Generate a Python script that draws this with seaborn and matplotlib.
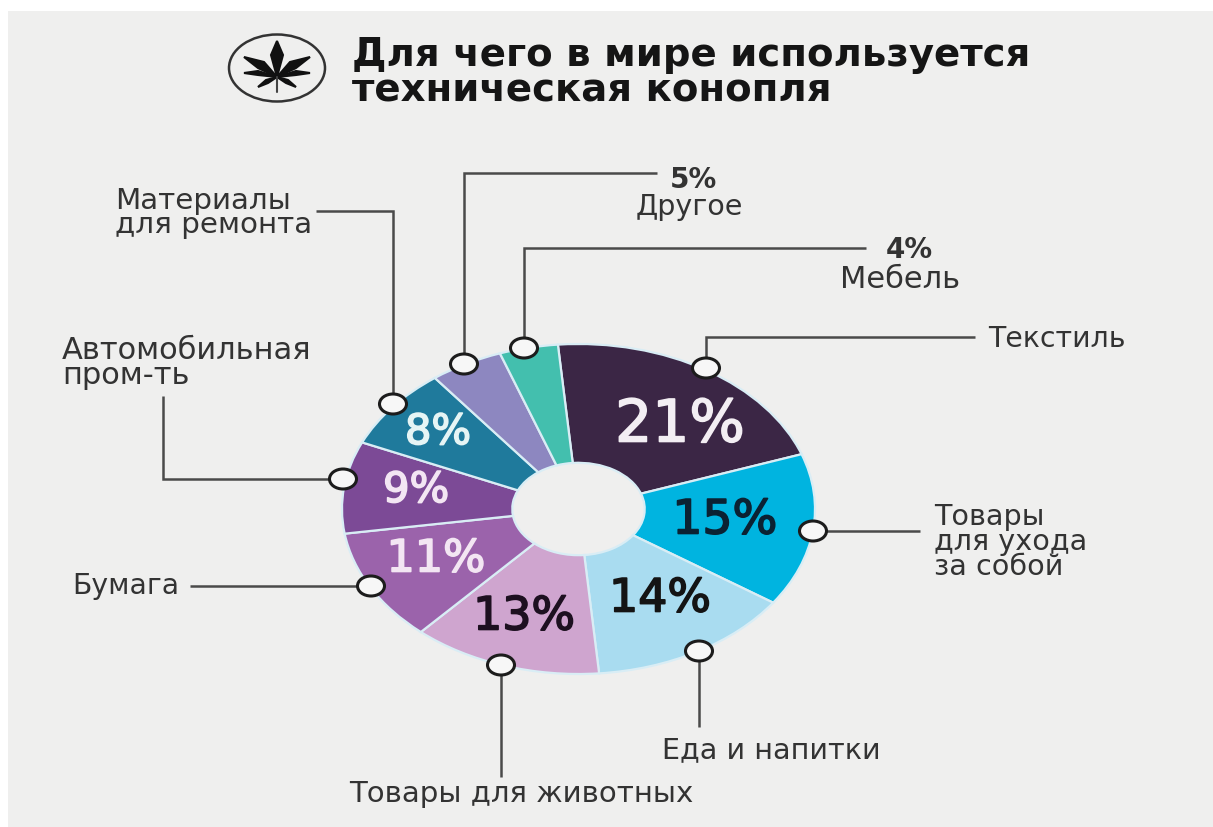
import matplotlib
matplotlib.use("Agg")
import matplotlib.pyplot as plt
import matplotlib.patheffects as pe
from matplotlib.patches import Ellipse, Polygon, Rectangle
import seaborn as sns

# Shares of hemp use, clockwise from the top
categories = ["Текстиль", "Товары для ухода за собой", "Еда и напитки",
              "Товары для животных", "Бумага", "Автомобильная пром-ть",
              "Материалы для ремонта", "Другое", "Мебель"]
shares = [21, 15, 14, 13, 11, 9, 8, 5, 4]
slice_colors = ["#3b2645", "#00b4e0", "#a9dcf0", "#cfa5cf", "#9b63ab",
                "#7c4a96", "#1f7a9c", "#8d87c0", "#43bfae"]

title_lines = ["Для чего в мире используется", "техническая конопля"]

PANEL = "#efefee"
INK = "#333333"
W, H = 1213, 828

sns.set_theme(style="white")
plt.rcParams["font.family"] = ["DejaVu Sans"]

fig = plt.figure(figsize=(W / 100, H / 100), dpi=100, facecolor="white")

# Full-figure layer measured in pixels for the panel, leaders and captions
layer = fig.add_axes([0, 0, 1, 1], zorder=3)
layer.set_xlim(0, W)
layer.set_ylim(H, 0)
layer.axis("off")
layer.patch.set_alpha(0)

back = fig.add_axes([0, 0, 1, 1], zorder=0)
back.set_xlim(0, W)
back.set_ylim(H, 0)
back.axis("off")
back.add_patch(Rectangle((8, 12), W, H, color=PANEL, lw=0))

# The ring is drawn wider than tall
left, right, top, bottom = 342, 815, 345, 675
ring = fig.add_axes([left / W, 1 - bottom / H, (right - left) / W, (bottom - top) / H], zorder=1)
wedges, _ = ring.pie(shares, colors=slice_colors, startangle=95, counterclock=False,
                     wedgeprops=dict(width=0.72, edgecolor="#d9edf5", linewidth=1.6))
ring.set_aspect("auto")
ring.set_xlim(-1, 1)
ring.set_ylim(-1, 1)
for w in wedges:
    w.set_clip_on(False)

# Percent captions inside the slices
pct_layout = {
    21: (680, 426, 42, "#f3eef3"), 15: (725, 522, 34, "#0b2233"),
    14: (660, 600, 33, "#141414"), 13: (524, 618, 33, "#1d1020"),
    11: (436, 560, 32, "#f3e6f3"), 9: (416, 491, 30, "#f3e6f3"),
    8: (438, 433, 30, "#e6f5f5"),
}
for value in shares:
    if value in pct_layout:
        x, y, size, color = pct_layout[value]
        layer.text(x, y, f"{value}%", ha="center", va="center", fontsize=size, color=color,
                   path_effects=[pe.withStroke(linewidth=1.2, foreground=color)])

# Leader lines ending in open dots on the ring
leaders = [
    [(706, 369), (706, 338), (975, 338)],
    [(813, 532), (920, 532)],
    [(699, 652), (699, 728)],
    [(501, 666), (501, 778)],
    [(371, 587), (190, 587)],
    [(343, 480), (163, 480), (163, 397)],
    [(393, 405), (393, 212), (316, 212)],
    [(464, 365), (464, 174), (657, 174)],
    [(524, 349), (524, 249), (866, 249)],
]
for path in leaders:
    xs, ys = zip(*path)
    layer.plot(xs, ys, color="#4a4a4a", lw=1.8, solid_capstyle="butt", solid_joinstyle="miter")
    layer.add_patch(Ellipse(path[0], 27, 20, facecolor="#f7f7f7", edgecolor="#1c1c1c", lw=2.2, zorder=5))

# Category captions
captions = [
    (988, 339, "left", 20.4, categories[0]),
    (934, 542, "left", 20.6, "Товары\nдля ухода\nза собой"),
    (771, 750, "center", 20.6, categories[2]),
    (521, 794, "center", 21.1, categories[3]),
    (72, 586, "left", 20.3, categories[4]),
    (62, 363, "left", 22, "Автомобильная\nпром-ть"),
    (115, 213, "left", 21.2, "Материалы\nдля ремонта"),
    (689, 207, "center", 20.5, categories[7]),
    (900, 280, "center", 22, categories[8]),
]
for x, y, ha, size, label in captions:
    layer.text(x, y, label, ha=ha, va="center", fontsize=size, color=INK, linespacing=0.86)

layer.text(693, 180, f"{shares[7]}%", ha="center", va="center", fontsize=20, color=INK, fontweight="bold")
layer.text(909, 250, f"{shares[8]}%", ha="center", va="center", fontsize=20, color=INK, fontweight="bold")

# Title
layer.text(352, 55, title_lines[0], ha="left", va="center", fontsize=27.8, fontweight="bold", color="#151515")
layer.text(352, 90, title_lines[1], ha="left", va="center", fontsize=27.8, fontweight="bold", color="#151515")

# Hemp leaf emblem
layer.add_patch(Ellipse((277, 69), 96, 67, facecolor="none", edgecolor="#333333", lw=1.8))
leaf = "#111111"
blades = [
    [(277, 78), (271, 56), (277, 42), (283, 56)],
    [(277, 78), (258, 69), (244, 58), (264, 63)],
    [(277, 78), (296, 69), (310, 58), (290, 63)],
    [(277, 78), (258, 72), (244, 74), (258, 76)],
    [(277, 78), (296, 72), (310, 74), (296, 76)],
    [(277, 78), (266, 81), (258, 88), (268, 84)],
    [(277, 78), (288, 81), (296, 88), (286, 84)],
]
for blade in blades:
    layer.add_patch(Polygon(blade, closed=True, facecolor=leaf, edgecolor=leaf, lw=1.5))
layer.plot([277, 277], [78, 93], color="#444444", lw=1.5)

fig.savefig("out.png", dpi=100, facecolor="white")
